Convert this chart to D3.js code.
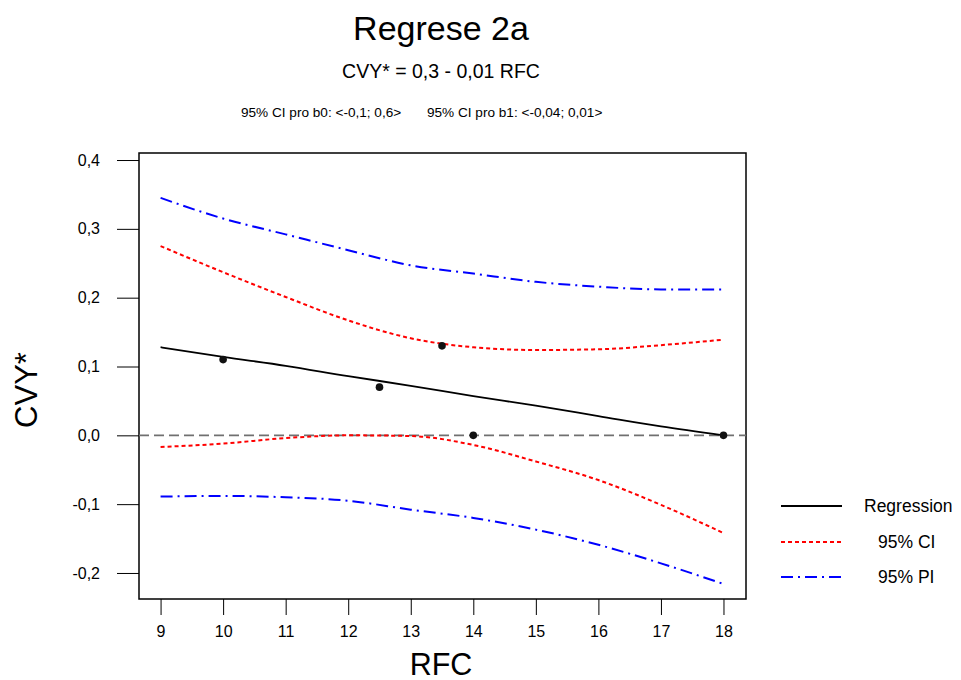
<!DOCTYPE html>
<html><head><meta charset="utf-8">
<script src="https://cdn.jsdelivr.net/npm/d3@7"></script>
<style>body{margin:0;background:#fff}svg{display:block}text{font-family:"Liberation Sans",Arial,sans-serif}</style>
</head><body>
<script>
const xTicks = [9,10,11,12,13,14,15,16,17,18];
const yTicks = [-0.2,-0.1,0.0,0.1,0.2,0.3,0.4];
const curveX = [9,10,11,12,13,14,15,16,17,18];
const regression = [0.128,0.114,0.101,0.086,0.072,0.057,0.043,0.028,0.013,0.0];
const ciUpper = [0.275,0.237,0.201,0.167,0.141,0.128,0.124,0.125,0.131,0.139];
const ciLower = [-0.017,-0.012,-0.004,0.0,-0.001,-0.014,-0.038,-0.065,-0.101,-0.142];
const piUpper = [0.345,0.315,0.292,0.269,0.247,0.235,0.223,0.216,0.212,0.212];
const piLower = [-0.089,-0.088,-0.090,-0.095,-0.108,-0.120,-0.137,-0.159,-0.186,-0.216];
const pointsX = [10,12.5,13.5,14,18];
const pointsY = [0.11,0.07,0.13,0.0,0.0];
const legendLabels = ["Regression","95% CI","95% PI"];

const W=961,H=680;
const svg=d3.select("body").append("svg").attr("width",W).attr("height",H);
const L=139,R=746,T=153,B=599;
const x=d3.scaleLinear().domain([8.655,18.36]).range([L,R]);
const y=d3.scaleLinear().domain([-0.2378,0.4102]).range([B,T]);

// axes
const yAxis=svg.append("g").attr("transform",`translate(${L},0)`)
  .call(d3.axisLeft(y).tickValues(yTicks).tickSize(22).tickPadding(17).tickFormat(d=>d3.format(".1f")(d).replace(".",",").replace("−","-")));
const xAxis=svg.append("g").attr("transform",`translate(0,${B})`)
  .call(d3.axisBottom(x).tickValues(xTicks).tickSize(16).tickPadding(11).tickFormat(d=>d));
[yAxis,xAxis].forEach(g=>{g.select(".domain").remove();g.selectAll("line").attr("stroke","#000").attr("stroke-width",1);
  g.selectAll("text").attr("font-size",16).attr("fill","#000").attr("font-family","Liberation Sans, Arial, sans-serif");});

// frame
svg.append("rect").attr("x",L).attr("y",T).attr("width",R-L).attr("height",B-T).attr("fill","none").attr("stroke","#000").attr("stroke-width",1.5);

// zero line
svg.append("line").attr("x1",L).attr("x2",R).attr("y1",y(0)).attr("y2",y(0))
  .attr("stroke","#707070").attr("stroke-width",1.8).attr("stroke-dasharray","10,5");

const line=d3.line().x(d=>x(d[0])).y(d=>y(d[1])).curve(d3.curveMonotoneX);
const mk=a=>curveX.map((v,i)=>[v,a[i]]);
const styles=[
  {data:regression,color:"#000",dash:null,w:1.8},
  {data:ciUpper,color:"#ff0000",dash:"4,3",w:2},
  {data:ciLower,color:"#ff0000",dash:"4,3",w:2},
  {data:piUpper,color:"#0000ff",dash:"12,5,2,5",w:2},
  {data:piLower,color:"#0000ff",dash:"12,5,2,5",w:2}
];
styles.forEach(s=>{
  svg.append("path").datum(mk(s.data)).attr("d",line).attr("fill","none")
    .attr("stroke",s.color).attr("stroke-width",s.w).attr("stroke-dasharray",s.dash);
});

svg.selectAll("circle.pt").data(pointsX.map((v,i)=>[v,pointsY[i]])).enter().append("circle")
  .attr("cx",d=>x(d[0])).attr("cy",d=>y(d[1])).attr("r",3.8).attr("fill","#111");

// titles
svg.append("text").attr("x",441).attr("y",40).attr("text-anchor","middle").attr("font-size",34).text("Regrese 2a");
svg.append("text").attr("x",441).attr("y",78).attr("text-anchor","middle").attr("font-size",19.5).text("CVY* = 0,3 - 0,01 RFC");
svg.append("text").attr("x",241).attr("y",117).attr("font-size",13.6).text("95% CI pro b0: <-0,1; 0,6>");
svg.append("text").attr("x",427).attr("y",117).attr("font-size",13.6).text("95% CI pro b1: <-0,04; 0,01>");

// axis labels
svg.append("text").attr("x",441).attr("y",675).attr("text-anchor","middle").attr("font-size",30.5).text("RFC");
svg.append("text").attr("transform","translate(37,390) rotate(-90)").attr("text-anchor","middle").attr("font-size",31).text("CVY*");

// legend
const legY=[506,542,577];
const legStyles=[{c:"#000",d:null},{c:"#ff0000",d:"4,3"},{c:"#0000ff",d:"12,5,2,5"}];
const legX=[864,878,878];
legendLabels.forEach((lab,i)=>{
  svg.append("line").attr("x1",781).attr("x2",842).attr("y1",legY[i]).attr("y2",legY[i])
    .attr("stroke",legStyles[i].c).attr("stroke-width",2).attr("stroke-dasharray",legStyles[i].d);
  svg.append("text").attr("x",legX[i]).attr("y",legY[i]+6).attr("font-size",17.5).text(lab);
});
</script>
</body></html>
